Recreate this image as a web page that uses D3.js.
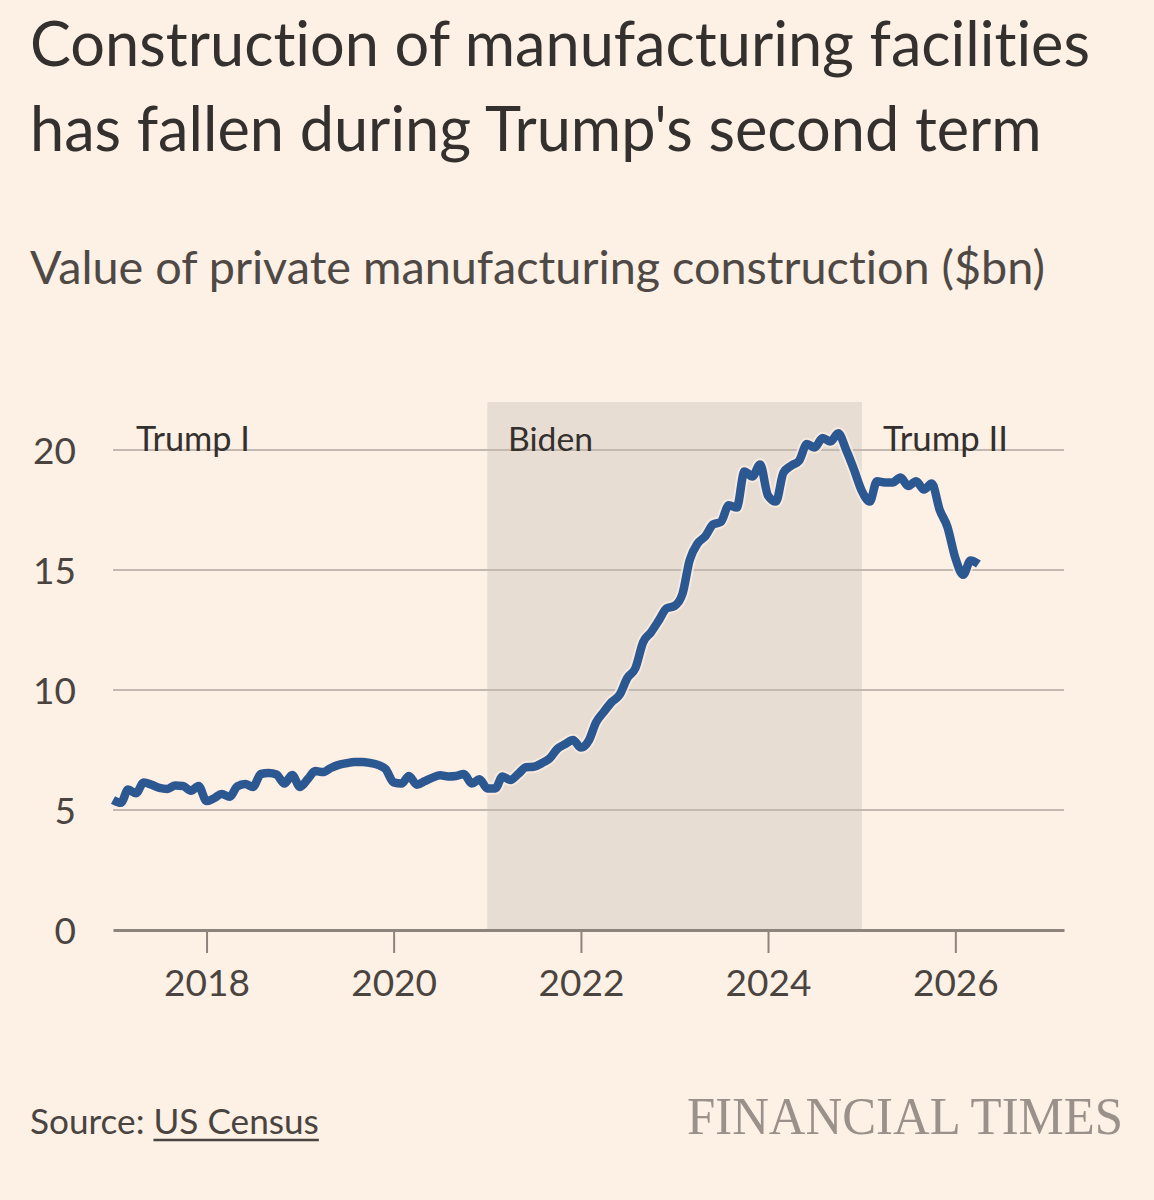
<!DOCTYPE html>
<html>
<head>
<meta charset="utf-8">
<script src="https://d3js.org/d3.v7.min.js"></script>
<style>
  body { margin: 0; background: #fdf0e5; }
  svg { display: block; }
  text { font-variant-ligatures: none; font-feature-settings: "liga" 0, "clig" 0; }
</style>
</head>
<body>
<div id="chart"></div>
<script>
// monthly values ($bn), one array per year
var v2017 = [5.42, 5.3, 5.85, 5.7, 6.15, 6.05, 5.92, 5.88, 6.02, 6.0, 5.8, 6.0];
var v2018 = [5.37, 5.5, 5.67, 5.55, 5.98, 6.08, 5.96, 6.5, 6.54, 6.48, 6.1, 6.46];
var v2019 = [5.96, 6.3, 6.62, 6.58, 6.75, 6.88, 6.95, 7.0, 7.0, 6.96, 6.88, 6.7];
var v2020 = [6.15, 6.1, 6.42, 6.05, 6.2, 6.35, 6.45, 6.4, 6.42, 6.5, 6.1, 6.28];
var v2021 = [5.9, 5.9, 6.4, 6.25, 6.5, 6.78, 6.8, 6.95, 7.15, 7.55, 7.75, 7.92];
var v2022 = [7.6, 7.9, 8.65, 9.1, 9.5, 9.8, 10.5, 10.9, 12.0, 12.4, 12.9, 13.4];
var v2023 = [13.5, 14.0, 15.4, 16.1, 16.4, 16.9, 17.0, 17.7, 17.6, 19.1, 18.9, 19.4];
var v2024 = [18.1, 17.85, 19.05, 19.35, 19.55, 20.25, 20.1, 20.5, 20.35, 20.7, 20.0, 19.2];
var v2025 = [18.3, 17.85, 18.7, 18.65, 18.65, 18.85, 18.5, 18.7, 18.35, 18.6, 17.5, 16.8];
var v2026 = [15.5, 14.8, 15.4, 15.25];

var years = [2017, 2018, 2019, 2020, 2021, 2022, 2023, 2024, 2025, 2026];
var yearValues = [v2017, v2018, v2019, v2020, v2021, v2022, v2023, v2024, v2025, v2026];

var yTicks = [0, 5, 10, 15, 20];
var xTicks = [2018, 2020, 2022, 2024, 2026];

// presidential terms
var terms = ["Trump I", "Biden", "Trump II"];
var termStart = ["2017-01-20", "2021-01-01", "2025-01-01"];
var termEnd = ["2021-01-01", "2025-01-01", "2027-03-01"];

var titleLines = ["Construction of manufacturing facilities", "has fallen during Trump's second term"];
var subtitle = "Value of private manufacturing construction ($bn)";

// build the series
var data = [];
for (let i = 0; i < years.length; i++) {
  for (let m = 0; m < yearValues[i].length; m++) {
    data.push({date: new Date(years[i], m, 1), value: yearValues[i][m]});
  }
}

var W = 1154, H = 1200;
var FONT = "Lato, 'Open Sans', sans-serif";

var svg = d3.select("#chart").append("svg")
  .attr("width", W)
  .attr("height", H);

svg.append("rect").attr("width", W).attr("height", H).attr("fill", "#fdf0e5");

// shrink/grow a text's font-size so it spans the wanted width
function fitText(sel, target) {
  var size = parseFloat(sel.attr("font-size"));
  var w = sel.node().getComputedTextLength();
  sel.attr("font-size", (size * target / w).toFixed(2));
}

// title + subtitle
var t1 = svg.append("text").attr("x", 30).attr("y", 66)
  .attr("font-family", FONT).attr("font-size", 52).attr("fill", "#33302e")
  .text(titleLines[0]);
fitText(t1, 1060);
svg.append("text").attr("x", 30).attr("y", 151)
  .attr("font-family", FONT).attr("font-size", t1.attr("font-size")).attr("fill", "#33302e")
  .text(titleLines[1]);

var st = svg.append("text").attr("x", 30).attr("y", 284)
  .attr("font-family", FONT).attr("font-size", 38).attr("fill", "#4f4945")
  .text(subtitle);
fitText(st, 1015);

// scales
var x = d3.scaleTime()
  .domain([new Date(2017, 0, 1), new Date(2027, 2, 1)])
  .range([113, 1064]);
var y = d3.scaleLinear()
  .domain([0, 22])
  .range([930, 402]);

// Biden shading
svg.append("rect")
  .attr("x", x(new Date(termStart[1])))
  .attr("y", y(22))
  .attr("width", x(new Date(termEnd[1])) - x(new Date(termStart[1])))
  .attr("height", y(0) - y(22))
  .attr("fill", "#e7ddd3");

// gridlines
svg.append("g")
  .selectAll("line")
  .data(yTicks.filter(d => d > 0))
  .enter().append("line")
    .attr("x1", x.range()[0]).attr("x2", x.range()[1])
    .attr("y1", d => y(d)).attr("y2", d => y(d))
    .attr("stroke", "#c4b9b0")
    .attr("stroke-width", 2);

// y axis labels
var yAxis = svg.append("g")
  .attr("transform", "translate(76,0)")
  .call(d3.axisLeft(y).tickValues(yTicks).tickSize(0).tickPadding(0));
yAxis.select(".domain").remove();
yAxis.selectAll("text")
  .attr("font-family", FONT).attr("font-size", 37).attr("fill", "#4a4440")
  .attr("dy", "0.36em");

// x axis
var xAxis = svg.append("g")
  .attr("transform", "translate(0," + y(0) + ")")
  .call(d3.axisBottom(x)
    .tickValues(xTicks.map(d => new Date(d, 0, 1)))
    .tickFormat(d3.timeFormat("%Y"))
    .tickSizeInner(23).tickSizeOuter(0).tickPadding(17));
xAxis.select(".domain")
  .attr("stroke", "#8d847e").attr("stroke-width", 3);
xAxis.selectAll(".tick line")
  .attr("stroke", "#8d847e").attr("stroke-width", 2);
xAxis.selectAll("text")
  .attr("font-family", FONT).attr("font-size", 37).attr("fill", "#4a4440")
  .attr("dy", "0.71em");

// term labels
var termX = [136, 508, 883];
var termW = [114, 85, 125];
for (let i = 0; i < terms.length; i++) {
  var tl = svg.append("text")
    .attr("x", termX[i]).attr("y", 451)
    .attr("font-family", FONT).attr("font-size", 32).attr("fill", "#33302e")
    .text(terms[i]);
  fitText(tl, termW[i]);
}

// the line, with a thin paper-coloured halo
var line = d3.line()
  .x(d => x(d.date))
  .y(d => y(d.value))
  .curve(d3.curveMonotoneX);

svg.append("path")
  .datum(data)
  .attr("fill", "none")
  .attr("stroke", "#fdf0e5")
  .attr("stroke-opacity", 0.7)
  .attr("stroke-width", 12.5)
  .attr("stroke-linejoin", "round")
  .attr("d", line);
svg.append("path")
  .datum(data)
  .attr("fill", "none")
  .attr("stroke", "#2c5891")
  .attr("stroke-width", 8.5)
  .attr("stroke-linejoin", "round")
  .attr("d", line);

// footer
var src = svg.append("text").attr("x", 30).attr("y", 1134)
  .attr("font-family", FONT).attr("font-size", 30).attr("fill", "#4a4440");
src.append("tspan").text("Source: ");
src.append("tspan").text("US Census");
fitText(src, 289);
var startX = 30 + src.node().getSubStringLength(0, 8);
var endX = 30 + src.node().getComputedTextLength();
svg.append("line")
  .attr("x1", startX).attr("x2", endX)
  .attr("y1", 1140).attr("y2", 1140)
  .attr("stroke", "#4a4440").attr("stroke-width", 2.5);

svg.append("text").attr("x", 687).attr("y", 1134)
  .attr("font-family", "'Liberation Serif', 'DejaVu Serif', serif")
  .attr("font-size", 52).attr("fill", "#9a918a")
  .attr("textLength", 436).attr("lengthAdjust", "spacingAndGlyphs")
  .text("FINANCIAL TIMES");
</script>
</body>
</html>
